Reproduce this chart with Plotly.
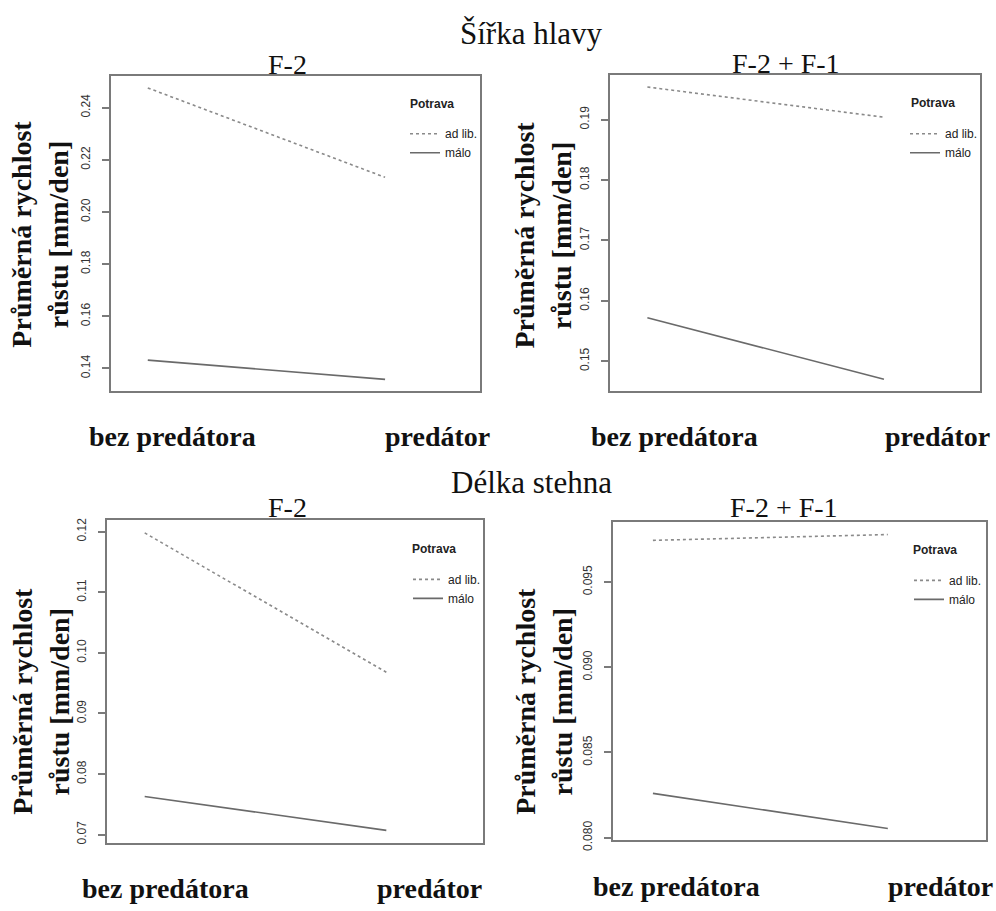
import plotly.graph_objects as go

# Treatment levels (x) and food levels (traces)
predation = ["bez predátora", "predátor"]
food_levels = ["ad lib.", "málo"]

# Mean growth rate [mm/day] per treatment level
head_f2_adlib = [0.2476, 0.2133]
head_f2_malo = [0.1432, 0.1358]
head_f21_adlib = [0.1954, 0.1904]
head_f21_malo = [0.1572, 0.1470]
thigh_f2_adlib = [0.1198, 0.0968]
thigh_f2_malo = [0.0763, 0.0707]
thigh_f21_adlib = [0.09745, 0.09779]
thigh_f21_malo = [0.0826, 0.08054]

# Tick values per panel
head_f2_ticks = [0.14, 0.16, 0.18, 0.20, 0.22, 0.24]
head_f21_ticks = [0.15, 0.16, 0.17, 0.18, 0.19]
thigh_f2_ticks = [0.07, 0.08, 0.09, 0.10, 0.11, 0.12]
thigh_f21_ticks = [0.080, 0.085, 0.090, 0.095]

section_titles = ["Šířka hlavy", "Délka stehna"]
panel_titles = ["F-2", "F-2 + F-1"]
y_title = "Průměrná rychlost<br>růstu [mm/den]"
legend_title = "Potrava"

W, H = 996, 911
SERIF = "Liberation Serif"
SANS = "Liberation Sans"


def px(x):
    return x / W


def py(y):
    return 1 - y / H


panels = [
    dict(adlib=head_f2_adlib, malo=head_f2_malo, ticks=head_f2_ticks, fmt=".2f",
         box=(111, 480, 75, 395), yr=(0.1312, 0.2522), xr=(-0.155, 1.40),
         leg=(405, 119), ltitle=(408, 103), title=panel_titles[0], tpos=(287, 63),
         ylab=(40, 236), xlab=[(172, 441), (437, 441)]),
    dict(adlib=head_f21_adlib, malo=head_f21_malo, ticks=head_f21_ticks, fmt=".2f",
         box=(610, 980, 74, 395), yr=(0.1450, 0.1974), xr=(-0.158, 1.406),
         leg=(905, 119), ltitle=(909, 102), title=panel_titles[1], tpos=(786, 62),
         ylab=(543, 237), xlab=[(674, 441), (937, 441)]),
    dict(adlib=thigh_f2_adlib, malo=thigh_f2_malo, ticks=thigh_f2_ticks, fmt=".2f",
         box=(107, 483, 526, 853), yr=(0.06865, 0.12184), xr=(-0.156, 1.40),
         leg=(408, 571), ltitle=(410, 555), title=panel_titles[0], tpos=(287, 513),
         ylab=(41, 710), xlab=[(165, 899), (429, 899)]),
    dict(adlib=thigh_f21_adlib, malo=thigh_f21_malo, ticks=thigh_f21_ticks, fmt=".3f",
         box=(613, 986, 528, 850), yr=(0.07987, 0.0985), xr=(-0.17, 1.418),
         leg=(909, 572), ltitle=(911, 556), title=panel_titles[1], tpos=(784, 513),
         ylab=(544, 710), xlab=[(676, 897), (940, 897)]),
]

fig = go.Figure()
annotations = []
layout = {}

for i, p in enumerate(panels, start=1):
    sfx = "" if i == 1 else str(i)
    leg_name = "legend" if i == 1 else f"legend{i}"
    x0, x1, y0, y1 = p["box"]

    fig.add_trace(go.Scatter(
        x=predation, y=p["adlib"], mode="lines", name=food_levels[0],
        line=dict(color="#8a8a8a", width=1.6, dash="3px,3px"),
        xaxis=f"x{sfx}", yaxis=f"y{sfx}", legend=leg_name, hoverinfo="skip"))
    fig.add_trace(go.Scatter(
        x=predation, y=p["malo"], mode="lines", name=food_levels[1],
        line=dict(color="#6a6a6a", width=1.6),
        xaxis=f"x{sfx}", yaxis=f"y{sfx}", legend=leg_name, hoverinfo="skip"))

    layout[f"xaxis{sfx}"] = dict(
        domain=[px(x0), px(x1)], type="category", categoryarray=predation,
        range=list(p["xr"]), showticklabels=False, ticks="", showgrid=False,
        zeroline=False, showline=True, mirror=True, linecolor="#7a7a7a",
        linewidth=2, anchor=f"y{sfx}", fixedrange=True)
    layout[f"yaxis{sfx}"] = dict(
        domain=[py(y1), py(y0)], range=list(p["yr"]), tickvals=p["ticks"],
        tickformat=p["fmt"], ticks="outside", ticklen=7, tickwidth=1.5,
        tickcolor="#7a7a7a", tickangle=-90, ticklabelstandoff=7,
        tickfont=dict(family=SANS, size=12, color="#333333"),
        showgrid=False, zeroline=False, showline=True, mirror=True,
        linecolor="#7a7a7a", linewidth=2, anchor=f"x{sfx}", fixedrange=True)

    layout[leg_name] = dict(
        x=px(p["leg"][0]), y=py(p["leg"][1]), xanchor="left", yanchor="top",
        bgcolor="rgba(0,0,0,0)", borderwidth=0,
        font=dict(family=SANS, size=12, color="#222222"),
        tracegroupgap=0, itemclick=False, itemdoubleclick=False)

    # Legend heading
    annotations.append(dict(
        text=legend_title, x=px(p["ltitle"][0]), y=py(p["ltitle"][1]),
        xref="paper", yref="paper", xanchor="left", yanchor="middle",
        showarrow=False,
        font=dict(family=SANS, size=12, color="#222222", weight="bold")))
    # Panel title
    annotations.append(dict(
        text=p["title"], x=px(p["tpos"][0]), y=py(p["tpos"][1]),
        xref="paper", yref="paper", xanchor="center", yanchor="middle",
        showarrow=False, font=dict(family=SERIF, size=28, color="#111111")))
    # Y axis title
    annotations.append(dict(
        text=y_title, x=px(p["ylab"][0]), y=py(p["ylab"][1]),
        xref="paper", yref="paper", xanchor="center", yanchor="middle",
        textangle=-90, showarrow=False,
        font=dict(family=SERIF, size=28, color="#111111", weight="bold")))
    # Treatment labels beneath the panel
    for lab, (lx, ly) in zip(predation, p["xlab"]):
        annotations.append(dict(
            text=lab, x=px(lx), y=py(ly), xref="paper", yref="paper",
            xanchor="center", yanchor="middle", showarrow=False,
            font=dict(family=SERIF, size=28, color="#111111", weight="bold")))

# Section headings
for txt, (sx, sy) in zip(section_titles, [(531, 32), (531, 487)]):
    annotations.append(dict(
        text=txt, x=px(sx), y=py(sy), xref="paper", yref="paper",
        xanchor="center", yanchor="middle", showarrow=False,
        font=dict(family=SERIF, size=31, color="#111111")))

fig.update_layout(
    width=W, height=H, margin=dict(l=0, r=0, t=0, b=0),
    paper_bgcolor="white", plot_bgcolor="white",
    showlegend=True, annotations=annotations, **layout)

fig.write_html("out.html")
